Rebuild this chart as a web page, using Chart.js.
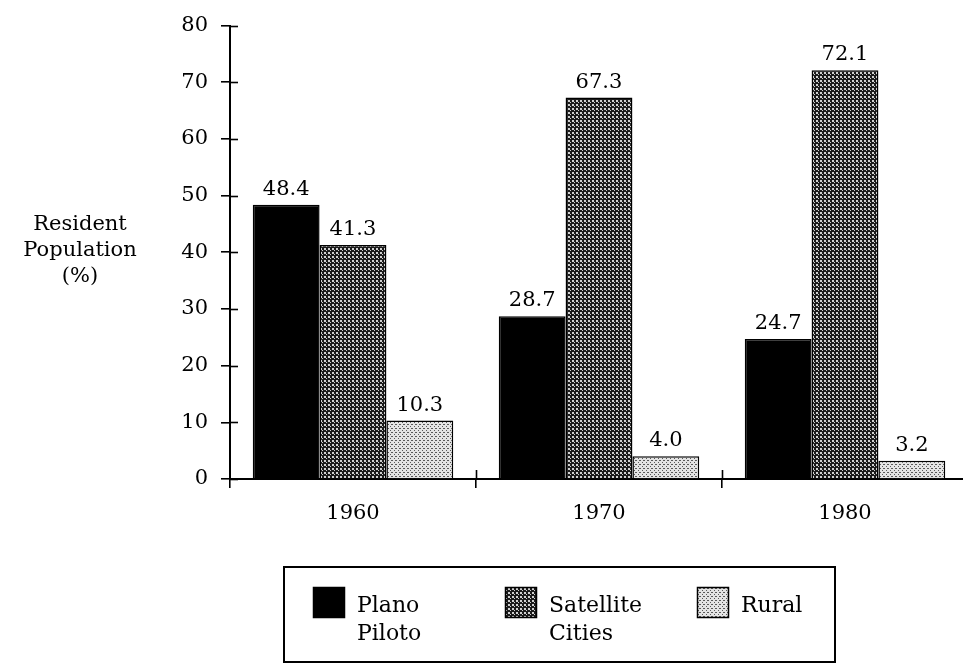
<!DOCTYPE html>
<html>
<head>
<meta charset="utf-8">
<script src="https://cdn.jsdelivr.net/npm/chart.js@4"></script>
<style>
html,body{margin:0;padding:0;background:#fff;overflow:hidden;}
#wrap{width:963px;height:664px;position:relative;overflow:hidden;}
</style>
</head>
<body>
<div id="wrap"><canvas id="c" width="968" height="664"></canvas></div>
<script>
// ---- data ----
const years = ['1960', '1970', '1980'];
const planoPiloto = [48.4, 28.7, 24.7];
const satelliteCities = [41.3, 67.3, 72.1];
const rural = [10.3, 4.0, 3.2];
const seriesNames = [['Plano', 'Piloto'], ['Satellite', 'Cities'], ['Rural']];
const yTitleLines = ['Resident', 'Population', '(%)'];
const yMin = 0, yMax = 80, yStep = 10;

const FONT = '"DejaVu Serif", "Liberation Serif", serif';

function makePattern(bg, fg, dots) {
  const c = document.createElement('canvas');
  c.width = 4; c.height = 4;
  const g = c.getContext('2d');
  g.fillStyle = bg; g.fillRect(0, 0, 4, 4);
  g.fillStyle = fg;
  dots.forEach(d => g.fillRect(d[0], d[1], d[2], d[3]));
  return g.createPattern(c, 'repeat');
}
const ctx = document.getElementById('c').getContext('2d');
const satPattern = makePattern('#1b1b1b', '#d0d0d0', [[0,0,2,2],[2,2,1,1]]);
const rurPattern = makePattern('#e4e4e4', '#5a5a5a', [[0,0,1,1],[2,2,1,1],[3,0,1,1]]);

const crossTicks = {
  id: 'crossTicks',
  afterDraw(chart) {
    const c = chart.ctx, y = chart.scales.y, x = chart.scales.x;
    c.save();
    c.strokeStyle = '#000'; c.lineWidth = 1.6;
    y.ticks.forEach(t => {
      const py = Math.round(y.getPixelForValue(t.value)) + 0.5;
      c.beginPath(); c.moveTo(y.right, py); c.lineTo(y.right + 8, py); c.stroke();
    });
    for (let i = 1; i < years.length; i++) {
      const px = Math.round((x.getPixelForValue(i - 1) + x.getPixelForValue(i)) / 2) + 0.5;
      c.beginPath(); c.moveTo(px, x.top - 9); c.lineTo(px, x.top); c.stroke();
    }
    // y title
    c.fillStyle = '#000';
    c.font = '21px ' + FONT;
    c.textAlign = 'center'; c.textBaseline = 'alphabetic';
    yTitleLines.forEach((s, i) => c.fillText(s, 80, 230 + i * 26));
    c.restore();
  }
};

const valueLabels = {
  id: 'valueLabels',
  afterDatasetsDraw(chart) {
    const c = chart.ctx;
    c.save();
    c.fillStyle = '#000';
    c.font = '21px ' + FONT;
    c.textAlign = 'center'; c.textBaseline = 'alphabetic';
    chart.data.datasets.forEach((ds, di) => {
      chart.getDatasetMeta(di).data.forEach((bar, i) => {
        c.fillText(ds.data[i].toFixed(1), bar.x, bar.y - 10);
      });
    });
    c.restore();
  }
};

const boxLegend = {
  id: 'boxLegend',
  afterDraw(chart) {
    const c = chart.ctx;
    c.save();
    c.strokeStyle = '#000'; c.lineWidth = 2;
    c.strokeRect(284, 567, 551, 95);
    const swX = [313, 505, 697];
    c.font = '22px ' + FONT;
    c.textAlign = 'left'; c.textBaseline = 'alphabetic';
    chart.data.datasets.forEach((ds, i) => {
      c.fillStyle = ds.backgroundColor;
      c.fillRect(swX[i], 587, 32, 31);
      c.lineWidth = 1.5;
      c.strokeRect(swX[i] + 0.5, 587.5, 31, 30);
      c.fillStyle = '#000';
      seriesNames[i].forEach((s, k) => c.fillText(s, swX[i] + 44, 612 + k * 28));
    });
    c.restore();
  }
};

new Chart(ctx, {
  type: 'bar',
  data: {
    labels: years,
    datasets: [
      { label: 'Plano Piloto', data: planoPiloto, backgroundColor: '#000000', borderColor: '#000', borderWidth: 1.5 },
      { label: 'Satellite Cities', data: satelliteCities, backgroundColor: satPattern, borderColor: '#000', borderWidth: 1.5 },
      { label: 'Rural', data: rural, backgroundColor: rurPattern, borderColor: '#000', borderWidth: 1.5 }
    ]
  },
  options: {
    responsive: false,
    animation: false,
    devicePixelRatio: 1,
    layout: { padding: { left: 0, right: 0, top: 10, bottom: 125 } },
    plugins: { legend: { display: false }, tooltip: { enabled: false } },
    datasets: { bar: { barPercentage: 1.0, categoryPercentage: 0.815 } },
    scales: {
      x: {
        grid: { offset: true, drawOnChartArea: false, drawTicks: true, tickLength: 9, color: '#000', lineWidth: 1.6 },
        border: { display: true, color: '#000', width: 2 },
        ticks: { color: '#000', font: { family: FONT, size: 21 }, padding: 13 },
        afterFit(s) { s.height = 60; }
      },
      y: {
        min: yMin, max: yMax,
        grid: { drawOnChartArea: false, drawTicks: true, tickLength: 9, color: '#000', lineWidth: 1.6 },
        border: { display: true, color: '#000', width: 2 },
        ticks: { stepSize: yStep, color: '#000', font: { family: FONT, size: 21 }, padding: 13 },
        afterFit(s) { s.width = 230; }
      }
    }
  },
  plugins: [crossTicks, valueLabels, boxLegend]
});
</script>
</body>
</html>
